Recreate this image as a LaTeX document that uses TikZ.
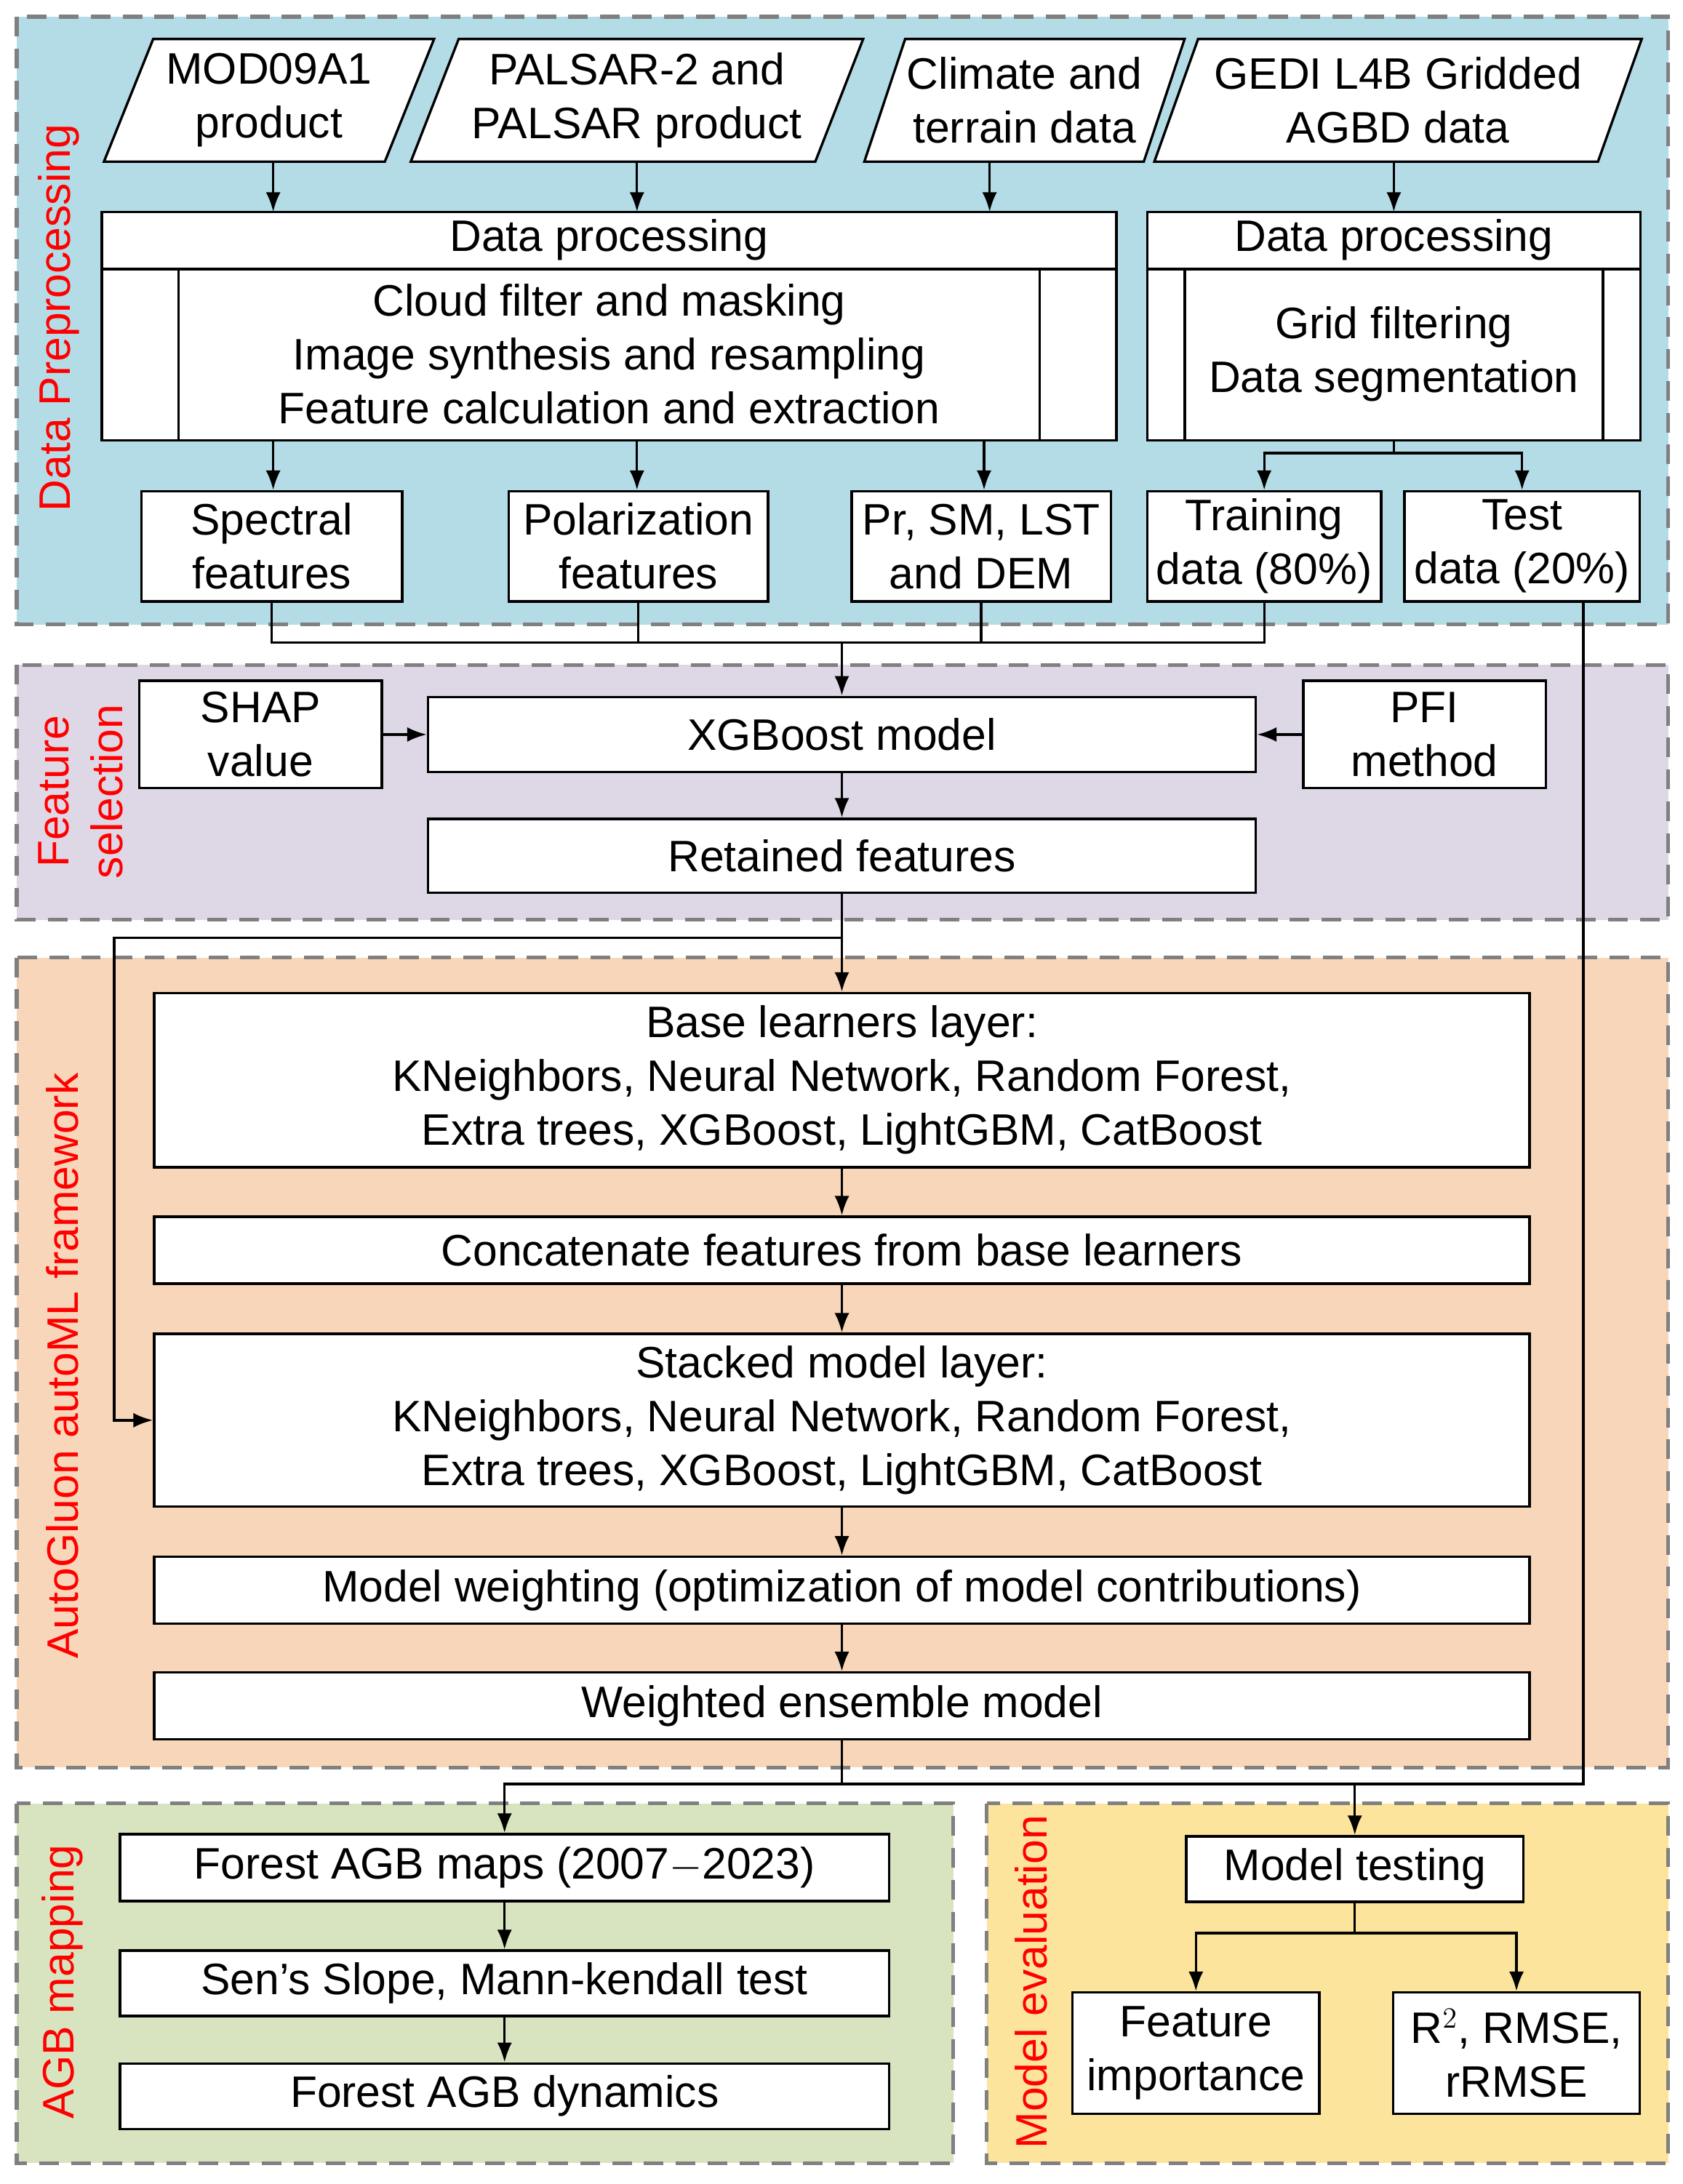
\documentclass[tikz,border=0pt]{standalone}
\usepackage{fontspec}
\setmainfont{Liberation Sans}
\usetikzlibrary{shapes.geometric,arrows.meta}
\definecolor{prepc}{RGB}{180,220,230}
\definecolor{selc}{RGB}{221,215,230}
\definecolor{autoc}{RGB}{248,214,186}
\definecolor{mapc}{RGB}{216,228,192}
\definecolor{evalc}{RGB}{252,228,156}
\definecolor{dashc}{RGB}{128,128,128}
\tikzset{
  panel/.style={draw=dashc, dashed, line width=1.5pt, dash pattern=on 8pt off 5pt},
  box/.style={draw, line width=1pt, fill=white, align=center, inner sep=0pt},
  para/.style={trapezium, trapezium left angle=65, trapezium right angle=115,
    trapezium stretches=true, draw, line width=1pt, fill=white, align=center, inner sep=0pt},
  side/.style={text=red, rotate=90, align=center},
  flow/.style={line width=1pt, -{Latex[length=8pt,width=6pt]}},
  link/.style={line width=1pt}
}
\begin{document}
\begin{tikzpicture}[x=0.02cm, y=-0.02cm, font=\fontsize{18}{22}\selectfont]
\useasboundingbox (0,0) rectangle (1207,1567);
% panels
\draw[panel, fill=prepc] (12,12) rectangle (1197,448);
\draw[panel, fill=selc] (12,477) rectangle (1197,660);
\draw[panel, fill=autoc] (12,687) rectangle (1197,1268);
\draw[panel, fill=mapc] (12,1294) rectangle (684,1552);
\draw[panel, fill=evalc] (708,1294) rectangle (1197,1552);
\node[side] (lprep) at (42,228) {Data Preprocessing};
\node[side] (lsel) at (58,568) {Feature\\selection};
\node[side] (lauto) at (45,980) {AutoGluon autoML framework};
\node[side] (lmap) at (45,1422) {AGB mapping};
\node[side] (leval) at (740,1422) {Model evaluation};
% inputs
\node[para, minimum width=4.74cm, minimum height=1.76cm] (mod) at (193,72) {MOD09A1\\product};
\node[para, minimum width=6.5cm, minimum height=1.76cm] (pal) at (457,72) {PALSAR-2 and\\PALSAR product};
\node[para, minimum width=4.6cm, minimum height=1.76cm] (cli) at (735,72) {Climate and\\terrain data};
\node[para, minimum width=7cm, minimum height=1.76cm] (gedi) at (1003,72) {GEDI L4B Gridded\\AGBD data};
% processing
\node[box, minimum width=14.56cm, minimum height=3.28cm] (proc) at (437,234) {};
\draw[link] (73,193) -- (801,193) (128,193) -- (128,316) (746,193) -- (746,316);
\node (proct) at (437,172) {Data processing};
\node (procb) at (437,254) [align=center] {Cloud filter and masking\\Image synthesis and resampling\\Feature calculation and extraction};
\node[box, minimum width=7.08cm, minimum height=3.28cm] (grid) at (1000,234) {};
\draw[link] (823,193) -- (1177,193) (850,193) -- (850,316) (1150,193) -- (1150,316);
\node (gridt) at (1000,172) {Data processing};
\node (gridb) at (1000,254) [align=center] {Grid filtering\\Data segmentation};
\coordinate (pa) at (196,116); \coordinate (pb) at (196,152);
\draw[flow] (196,116) -- (196,152);
\draw[flow] (457,116) -- (457,152);
\draw[flow] (710,116) -- (710,152);
\draw[flow] (1000,116) -- (1000,152);
% features
\node[box, minimum width=3.74cm, minimum height=1.58cm] (spec) at (195,392) {Spectral\\features};
\node[box, minimum width=3.72cm, minimum height=1.58cm] (pol) at (458,392) {Polarization\\features};
\node[box, minimum width=3.72cm, minimum height=1.58cm] (clim) at (704,392) {Pr, SM, LST\\and DEM};
\node[box, minimum width=3.36cm, minimum height=1.58cm] (train) at (907,392) {Training\\data (80\%)};
\node[box, minimum width=3.38cm, minimum height=1.58cm] (test) at (1092,392) {Test\\data (20\%)};
\draw[flow] (196,316) -- (spec.north -| 196,0);
\draw[flow] (457,316) -- (pol.north -| 457,0);
\draw[flow] (706,316) -- (clim.north -| 706,0);
\draw[link] (grid.south) -- (1000,325);
\draw[flow] (1000,325) -| (train.north);
\draw[flow] (1000,325) -| (test.north);
% feature selection
\node[box, minimum width=11.88cm, minimum height=1.08cm] (xgb) at (604,527) {XGBoost model};
\node[box, minimum width=3.48cm, minimum height=1.54cm] (shap) at (187,527) {SHAP\\value};
\node[box, minimum width=3.48cm, minimum height=1.54cm] (pfi) at (1022,527) {PFI\\method};
\node[box, minimum width=11.88cm, minimum height=1.06cm] (ret) at (604,614) {Retained features};
\coordinate (mrg) at (604,461);
\draw[link] (spec.south) |- (train.south |- mrg) -- (train.south);
\draw[link] (pol.south) -- (pol.south |- mrg);
\draw[link] (clim.south) -- (clim.south |- mrg);
\draw[flow] (mrg) -- (xgb.north);
\draw[flow] (shap) -- (xgb);
\draw[flow] (pfi) -- (xgb);
\draw[flow] (xgb) -- (ret);
% AutoGluon
\node[box, minimum width=19.74cm, minimum height=2.5cm] (base) at (604,775) {Base learners layer:\\KNeighbors, Neural Network, Random Forest,\\Extra trees, XGBoost, LightGBM, CatBoost};
\node[box, minimum width=19.74cm, minimum height=0.96cm] (conc) at (604,897) {Concatenate features from base learners};
\node[box, minimum width=19.74cm, minimum height=2.48cm] (stack) at (604,1019) {Stacked model layer:\\KNeighbors, Neural Network, Random Forest,\\Extra trees, XGBoost, LightGBM, CatBoost};
\node[box, minimum width=19.74cm, minimum height=0.96cm] (wgt) at (604,1141) {Model weighting (optimization of model contributions)};
\node[box, minimum width=19.74cm, minimum height=0.96cm] (ens) at (604,1224) {Weighted ensemble model};
\coordinate (brk) at (82,673);
\draw[flow] (ret) -- (base);
\draw[flow] (604,673) -- (brk) |- (stack.west);
\draw[flow] (base) -- (conc);
\draw[flow] (conc) -- (stack);
\draw[flow] (stack) -- (wgt);
\draw[flow] (wgt) -- (ens);
% mapping
\node[box, minimum width=11.04cm, minimum height=0.96cm] (maps) at (362,1340) {Forest AGB maps (2007$-$2023)};
\node[box, minimum width=11.04cm, minimum height=0.94cm] (sen) at (362,1423) {Sen's Slope, Mann-kendall test};
\node[box, minimum width=11.04cm, minimum height=0.94cm] (dyn) at (362,1504) {Forest AGB dynamics};
\draw[flow] (sen |- 0,1364) -- (sen);
\draw[flow] (sen) -- (dyn);
% evaluation
\node[box, minimum width=4.84cm, minimum height=0.94cm] (mtest) at (972,1341) {Model testing};
\node[box, minimum width=3.54cm, minimum height=1.74cm] (imp) at (858,1473) {Feature\\importance};
\node[box, minimum width=3.54cm, minimum height=1.74cm] (acc) at (1088,1473) {R$^2$, RMSE,\\rRMSE};
\coordinate (join) at (604,1280);
\draw[link] (ens.south) -- (join);
\draw[flow] (join) -| (maps.north);
\draw[flow] (test.south -| 1136,0) |- (mtest.north |- join) -- (mtest.north);
\draw[link] (join) -- (mtest.north |- join);
\draw[link] (mtest.south) -- (972,1387);
\draw[flow] (972,1387) -| (imp.north);
\draw[flow] (972,1387) -| (acc.north);
\end{tikzpicture}
\end{document}
